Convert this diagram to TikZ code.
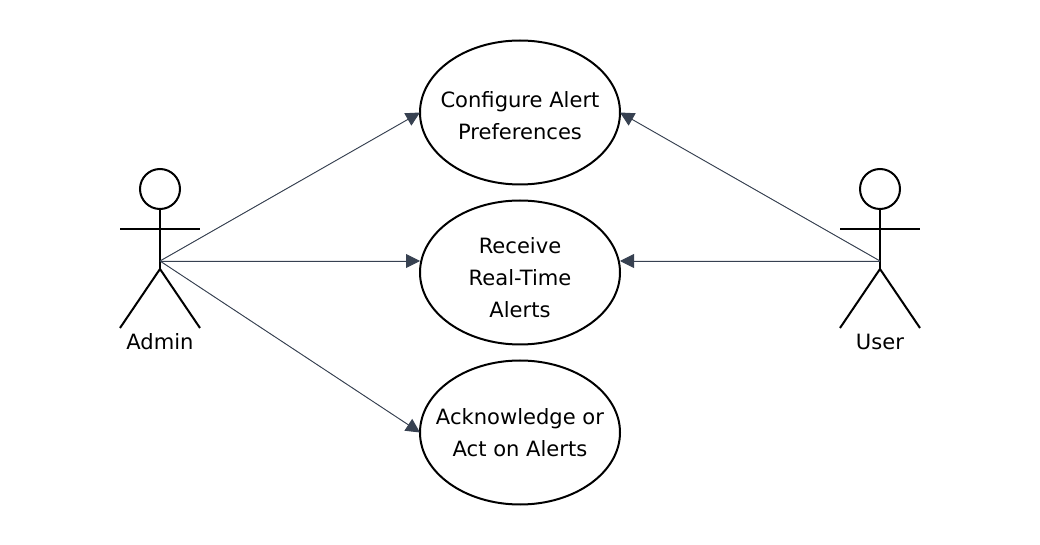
\documentclass[tikz,border=0pt]{standalone}
\usepackage{fontspec}
\setmainfont{DejaVu Sans}
\usepackage{xcolor}
\usetikzlibrary{arrows.meta,positioning,shapes.geometric}
\definecolor{linkgray}{HTML}{374151}
\tikzset{
  usecase/.style={ellipse,draw=black,line width=1.5pt,fill=white,align=center,minimum width=150pt,minimum height=108pt,inner xsep=-30pt,inner ysep=-10pt,outer sep=0pt,font=\fontsize{15.8}{24}\selectfont},
  actorhead/.style={circle,draw=black,line width=1.5pt,minimum size=30pt,inner sep=0pt},
  actorline/.style={draw=black,line width=1.5pt},
  actorname/.style={inner sep=0pt,font=\fontsize{15.8}{24}\selectfont},
  assoc/.style={-{Triangle[length=10.5pt,width=10.5pt]},line width=0.7pt,draw=linkgray,fill=linkgray}
}

\begin{document}
\begin{tikzpicture}[x=0.75pt,y=-0.75pt,node distance=12pt]
\useasboundingbox (0,0) rectangle (1040,545);
\node[usecase] (receive) at (520,272.5) {\rule{0pt}{19.5pt}Receive\\Real-Time\\Alerts};
\node[usecase,above=of receive] (prefs) {\rule{0pt}{16.5pt}Configure Alert\\Preferences};
\node[usecase,below=of receive] (ack) {Acknowledge or\\Act on Alerts};
% admin
\node[actorhead] (adminhead) at (160,189) {};
\coordinate (adminhub) at (160,261);
\coordinate (adminhip) at (160,269);
\coordinate (adminleft) at (120,229);
\coordinate (adminright) at (200,229);
\coordinate (adminfootl) at (120,328);
\coordinate (adminfootr) at (200,328);
\draw[actorline] (adminhead) -- (adminhip);
\draw[actorline] (adminleft) -- (adminright);
\draw[actorline] (adminfootl) -- (adminhip) -- (adminfootr);
\node[actorname] (admin) at (160,342) {Admin};
% user
\node[actorhead] (userhead) at (880,189) {};
\coordinate (userhub) at (880,261);
\coordinate (userhip) at (880,269);
\coordinate (userleft) at (840,229);
\coordinate (userright) at (920,229);
\coordinate (userfootl) at (840,328);
\coordinate (userfootr) at (920,328);
\draw[actorline] (userhead) -- (userhip);
\draw[actorline] (userleft) -- (userright);
\draw[actorline] (userfootl) -- (userhip) -- (userfootr);
\node[actorname] (user) at (880,342) {User};
\draw[assoc] (adminhub) -- (prefs.west);
\draw[assoc] (adminhub) -- (receive.west |- adminhub);
\draw[assoc] (adminhub) -- (ack.west);
\draw[assoc] (userhub) -- (prefs.east);
\draw[assoc] (userhub) -- (receive.east |- userhub);
\end{tikzpicture}
\end{document}
